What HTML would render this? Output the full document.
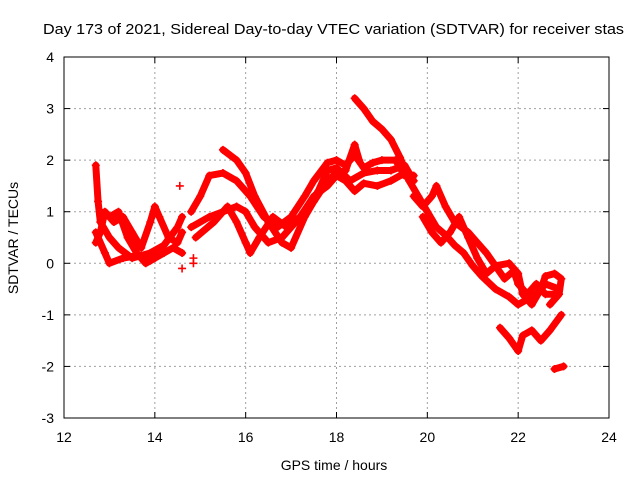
<!DOCTYPE html>
<html><head><meta charset="utf-8"><style>
body{margin:0;background:#fff}
svg{display:block;font-family:"Liberation Sans",sans-serif}
</style></head><body>
<svg id="chart" width="640" height="480">
<rect width="640" height="480" fill="#fff"/>
<text x="43" y="34" font-size="15" textLength="581" lengthAdjust="spacingAndGlyphs">Day 173 of 2021, Sidereal Day-to-day VTEC variation (SDTVAR) for receiver stas</text>
<g id="grid"></g>
<g id="marks"></g>
<rect x="64" y="57" width="545" height="361" fill="none" stroke="#000" stroke-width="1"/>
<g id="axes"></g>
<text x="334" y="470" font-size="14" text-anchor="middle">GPS time / hours</text>
<text transform="translate(18,238) rotate(-90)" font-size="14" text-anchor="middle">SDTVAR / TECUs</text>
</svg>
<script>
const xTicks=[12,14,16,18,20,22,24];
const yTicks=[-3,-2,-1,0,1,2,3,4];
const trackA1=[[12.7,1.9],[12.75,1.2],[12.8,0.8],[13.0,0.5],[13.2,0.3],[13.5,0.1],[13.9,0.2],[14.2,0.35],[14.5,0.7],[14.6,0.9]];
const trackA2=[[12.7,0.4],[12.8,0.6],[12.9,1.0],[13.1,0.8],[13.3,0.9],[13.5,0.6],[13.7,0.3],[13.9,0.8],[14.0,1.1],[14.1,0.9],[14.3,0.5],[14.5,0.4],[14.6,0.6]];
const trackA3=[[12.7,0.6],[12.9,0.2],[13.0,0.0],[13.3,0.1],[13.6,0.15],[13.9,0.05],[14.2,0.2],[14.4,0.3],[14.6,0.2]];
const trackA4=[[12.8,1.0],[13.0,0.9],[13.2,1.0],[13.4,0.5],[13.6,0.2],[13.8,0.0],[14.0,0.1]];
const trackB1=[[15.5,2.2],[15.8,2.0],[16.0,1.75],[16.2,1.3],[16.5,0.8],[16.8,0.4],[17.0,0.3],[17.3,0.9],[17.5,1.2],[17.8,1.6],[18.0,1.75],[18.2,1.8],[18.4,2.3],[18.5,2.0]];
const trackB2=[[14.8,1.0],[15.0,1.3],[15.2,1.7],[15.5,1.75],[15.8,1.6],[16.1,1.3],[16.4,0.9],[16.7,0.7],[17.0,0.9],[17.3,1.3],[17.5,1.6],[17.8,1.95],[18.0,2.0],[18.2,1.9],[18.4,2.1],[18.6,1.85],[18.8,1.95],[19.0,2.0],[19.3,2.0],[19.5,1.7]];
const trackB3=[[14.8,0.7],[15.2,0.9],[15.5,1.0],[15.8,1.1],[16.0,1.0],[16.2,0.7],[16.5,0.4],[16.8,0.5],[17.0,0.7],[17.3,1.0],[17.6,1.4],[17.8,1.8],[18.0,1.85],[18.3,1.6],[18.6,1.75],[18.9,1.8],[19.2,1.8],[19.5,1.9],[19.7,1.6]];
const trackB4=[[14.9,0.5],[15.3,0.8],[15.6,1.1],[15.8,0.8],[16.0,0.4],[16.1,0.2],[16.3,0.5],[16.6,0.9],[16.9,0.7],[17.2,0.9],[17.5,1.3],[17.8,1.5],[18.0,1.7],[18.2,1.6],[18.4,1.4],[18.6,1.55],[18.9,1.5],[19.2,1.6],[19.5,1.75],[19.7,1.7]];
const trackC1=[[18.4,3.2],[18.6,3.0],[18.8,2.75],[19.0,2.6],[19.2,2.4],[19.4,2.05],[19.6,1.6],[19.8,1.3],[20.0,1.0],[20.2,0.7],[20.4,0.55],[20.6,0.35],[20.8,0.2],[21.0,-0.05],[21.2,-0.25],[21.5,-0.5],[21.8,-0.65],[22.0,-0.8],[22.2,-0.7],[22.4,-0.6],[22.6,-0.4],[22.9,-0.5]];
const trackC2=[[19.7,1.3],[19.9,1.1],[20.1,1.3],[20.2,1.5],[20.4,1.1],[20.6,0.8],[20.9,0.6],[21.1,0.4],[21.3,0.2],[21.5,-0.05],[21.7,-0.3],[21.9,-0.15],[22.0,-0.4],[22.2,-0.6],[22.4,-0.4],[22.6,-0.6],[22.8,-0.6]];
const trackC3=[[19.9,0.9],[20.1,0.6],[20.3,0.4],[20.5,0.6],[20.7,0.9],[20.9,0.5],[21.1,0.1],[21.3,-0.2],[21.5,-0.05],[21.8,0.0],[22.0,-0.2],[22.1,-0.6],[22.3,-0.8],[22.5,-0.5],[22.6,-0.25],[22.8,-0.2],[22.95,-0.3],[22.9,-0.6],[22.7,-0.8]];
const trackC4=[[21.6,-1.25],[21.8,-1.45],[22.0,-1.7],[22.1,-1.4],[22.3,-1.3],[22.5,-1.5],[22.7,-1.3],[22.95,-1.0]];
const trackC5=[[22.8,-2.05],[23.0,-2.0]];
const isolated=[[14.55,1.5],[14.6,-0.1],[14.85,0.1],[14.85,0.0]];
const tracks=[trackA1,trackA2,trackA3,trackA4,trackB1,trackB2,trackB3,trackB4,trackC1,trackC2,trackC3,trackC4,trackC5];

const X0=64,X1=609,Y0=418,Y1=57,XMIN=12,XMAX=24,YMIN=-3,YMAX=4;
const xs=t=>X0+(t-XMIN)/(XMAX-XMIN)*(X1-X0);
const ys=v=>Y0-(v-YMIN)/(YMAX-YMIN)*(Y0-Y1);
const NS="http://www.w3.org/2000/svg";
const grid=document.getElementById('grid'),axes=document.getElementById('axes'),marks=document.getElementById('marks');
function mk(tag,attrs,parent){const e=document.createElementNS(NS,tag);for(const k in attrs)e.setAttribute(k,attrs[k]);parent.appendChild(e);return e;}
xTicks.forEach(t=>{
  const x=xs(t);
  if(t>XMIN&&t<XMAX){const g=mk('line',{x1:x,x2:x,y1:Y1,y2:Y0,stroke:'#a0a0a0','stroke-dasharray':'2,3'},grid);
  
  }
  mk('line',{x1:x,x2:x,y1:Y0,y2:Y0-6,stroke:'#000'},axes);
  mk('line',{x1:x,x2:x,y1:Y1,y2:Y1+6,stroke:'#000'},axes);
  const l=mk('text',{x:x,y:Y0+24,'font-size':14,'text-anchor':'middle'},axes);l.textContent=t;
  
  
});
yTicks.forEach(v=>{
  const y=ys(v);
  if(v>YMIN&&v<YMAX){const g=mk('line',{x1:X0,x2:X1,y1:y,y2:y,stroke:'#a0a0a0','stroke-dasharray':'2,3'},grid);
  
  }
  mk('line',{x1:X0,x2:X0+6,y1:y,y2:y,stroke:'#000'},axes);
  mk('line',{x1:X1,x2:X1-6,y1:y,y2:y,stroke:'#000'},axes);
  const l=mk('text',{x:X0-10,y:y+5,'font-size':14,'text-anchor':'end'},axes);l.textContent=v;
  
  
});
function plus(t,v){const x=xs(t),y=ys(v);
  const p=mk('path',{d:`M${x-4},${y}h8M${x},${y-4}v8`,stroke:'#f00','stroke-width':1.6},marks);
  
  }
tracks.forEach(tr=>{
  const pl=mk('polyline',{points:tr.map(p=>xs(p[0])+','+ys(p[1])).join(' '),fill:'none',stroke:'#f00','stroke-width':7,'stroke-linejoin':'round','stroke-linecap':'round'},marks);
  
  
  tr.forEach(p=>plus(p[0],p[1]));
});
isolated.forEach(p=>plus(p[0],p[1]));
</script>
</body></html>
